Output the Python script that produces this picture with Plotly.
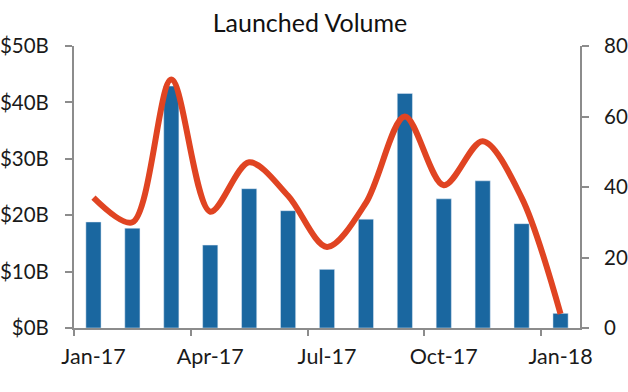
import plotly.graph_objects as go

months = ["Jan-17", "Feb-17", "Mar-17", "Apr-17", "May-17", "Jun-17", "Jul-17",
          "Aug-17", "Sep-17", "Oct-17", "Nov-17", "Dec-17", "Jan-18"]
volume_b = [18.8, 17.7, 42.9, 14.7, 24.7, 20.8, 10.4, 19.3, 41.6, 22.9, 26.1, 18.5, 2.6]
count = [37, 30, 70.5, 33, 47, 37.5, 23, 35.5, 60, 40.5, 53, 37, 4]
tick_labels = ["Jan-17", "Apr-17", "Jul-17", "Oct-17", "Jan-18"]
tick_idx = [0, 3, 6, 9, 12]

x = list(range(len(months)))

fig = go.Figure()
fig.add_trace(go.Bar(x=x, y=volume_b, marker_color="#1A67A0", width=0.39,
                     hovertext=months, showlegend=False))
fig.add_trace(go.Scatter(x=x, y=count, yaxis="y2", mode="lines",
                         line=dict(color="#E04422", width=6, shape="spline", smoothing=0.9),
                         hovertext=months, showlegend=False))

axis_col = "#8C8C8C"
font_col = "#1a1a1a"
fam = "Lato, 'Noto Sans', sans-serif"

fig.update_layout(
    width=628, height=392,
    margin=dict(l=74, r=48, t=46, b=64, autoexpand=False),
    paper_bgcolor="white", plot_bgcolor="white",
    font=dict(family=fam, color=font_col, size=20),
    title=dict(text="Launched Volume", x=0.4936, xanchor="center", y=0.94, yanchor="middle",
               font=dict(size=25, color="#111", family=fam)),
    bargap=0.6,
    hovermode=False,
    xaxis=dict(range=[-0.5, 12.5], tickmode="array", tickvals=tick_idx, ticktext=tick_labels,
               ticks="", showgrid=False, zeroline=False, showline=True, linecolor=axis_col,
               linewidth=2, tickfont=dict(size=21.5), ticklabelstandoff=8,
               minor=dict(tickmode="array", tickvals=[-0.5, 2.5, 5.5, 8.5, 11.5], ticks="outside",
                          ticklen=6, tickwidth=2, tickcolor=axis_col, showgrid=False)),
    yaxis=dict(range=[0, 50], tickvals=[0, 10, 20, 30, 40, 50],
               ticktext=["$0B", "$10B", "$20B", "$30B", "$40B", "$50B"],
               ticks="outside", ticklen=7, tickwidth=2, tickcolor=axis_col,
               showgrid=False, zeroline=False, showline=True, linecolor=axis_col, linewidth=2,
               tickfont=dict(size=20.5), ticklabelstandoff=12),
    yaxis2=dict(range=[0, 80], tickvals=[0, 20, 40, 60, 80], overlaying="y", side="right",
                ticks="outside", ticklen=7, tickwidth=2, tickcolor=axis_col,
                showgrid=False, zeroline=False, showline=True, linecolor=axis_col, linewidth=2,
                tickfont=dict(size=20.5), ticklabelstandoff=11),
)

fig.write_html("out.html", config={"displayModeBar": False},
               post_script="document.body.style.margin='0';document.body.style.overflow='hidden';")
